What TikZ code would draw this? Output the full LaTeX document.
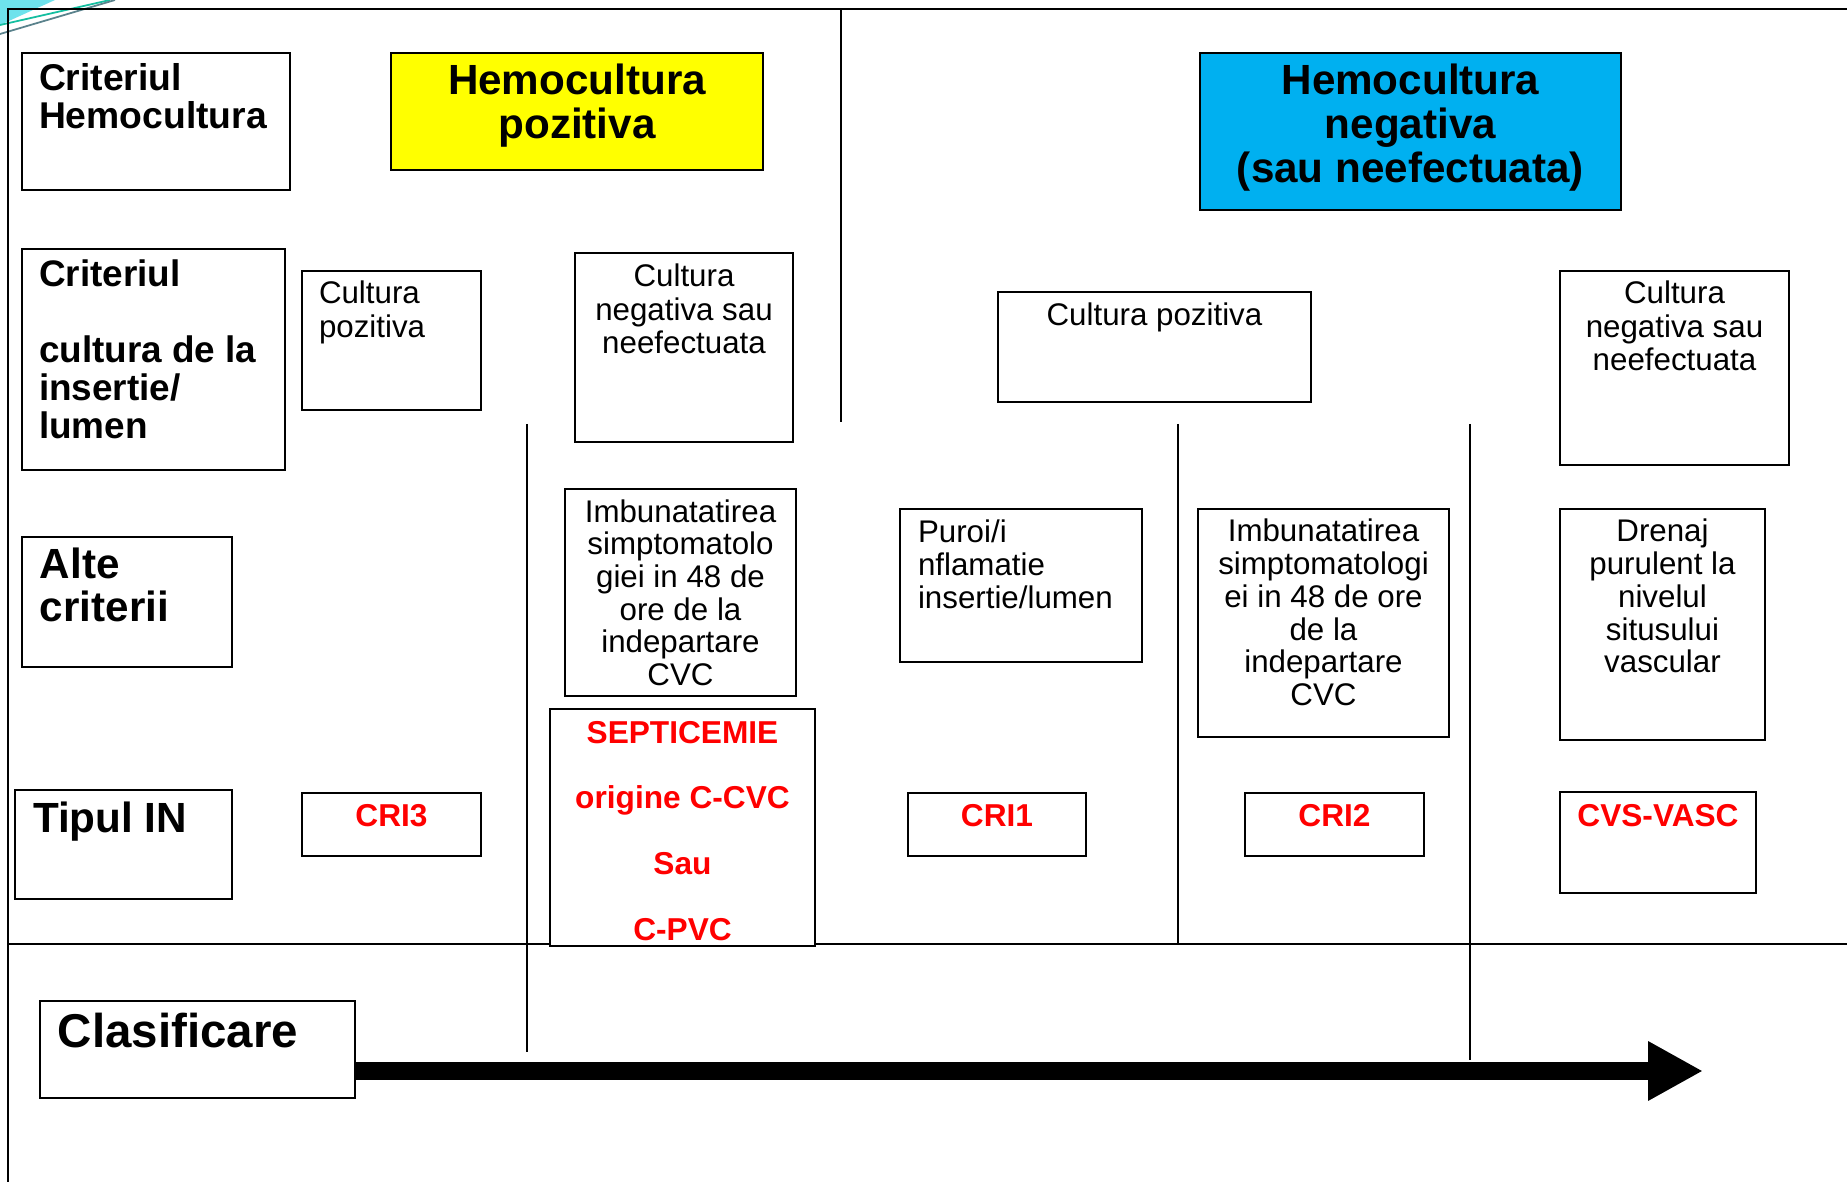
\documentclass[tikz,border=0pt]{standalone}
\usepackage{fontspec}
\setmainfont{Liberation Sans}
\usetikzlibrary{arrows.meta}
\newlength\upx \setlength\upx{0.01cm}
\definecolor{hyellow}{RGB}{255,255,0}
\definecolor{hcyan}{RGB}{0,176,240}
\definecolor{hred}{RGB}{255,0,0}
\definecolor{decocyan}{RGB}{110,226,236}
\definecolor{decogreen}{RGB}{20,190,160}
\definecolor{decogray}{RGB}{90,130,140}
\tikzset{
  framebox/.style={draw=black, line width=0.6pt, fill=white, inner sep=0pt, outer sep=0pt},
  rule/.style={draw=black, line width=0.6pt},
  bigarrow/.style={line width=5.1pt, -{Triangle[length=15.6pt, width=15.8pt]}},
}
% [style]{name}{x1}{y1}{x2}{y2}{first baseline}{format}{text}
\newcommand\pbox[9][]{%
  \node[framebox,anchor=north west,#1] (#2) at (#3,#4)
   {\begin{minipage}[t][\dimexpr#6\upx-#4\upx\relax][t]{\dimexpr#5\upx-#3\upx\relax}#8\rule{0pt}{#7\upx}#9\end{minipage}};}
\newcommand\fhead{\fontsize{10.6pt}{10.6pt}\selectfont\bfseries\raggedright\leftskip=17\upx}
\newcommand\fbig{\fontsize{12pt}{12.4pt}\selectfont\bfseries}
\newcommand\freg{\fontsize{8.9pt}{9.4pt}\selectfont}
\newcommand\fred{\fontsize{9pt}{10pt}\selectfont\bfseries\color{hred}\centering}
\begin{document}
\begin{tikzpicture}[x=0.01cm,y=-0.01cm]
\useasboundingbox (0,0) rectangle (1847,1182);
\fill[white] (0,0) rectangle (1847,1182);
% corner decoration
\fill[decocyan] (0,0) -- (55,0) -- (0,25) -- cycle;
\draw[decogreen, line width=0.5pt] (0,25) -- (110,0);
\draw[decogray, line width=0.5pt] (0,34) -- (115,0);
% frame and dividers
\draw[rule] (8,1182) -- (8,9) -- (1847,9);
\draw[rule] (841,9) -- (841,422);
\draw[rule] (527,424) -- (527,1052);
\draw[rule] (1178,424) -- (1178,944);
\draw[rule] (1470,424) -- (1470,1060);
\draw[rule] (8,944) -- (1847,944);
% row 1
\pbox{crit1}{22}{53}{290}{190}{38}{\fhead}{Criteriul\\Hemocultura}
\pbox[fill=hyellow]{hpos}{391}{53}{763}{170}{42}{\fbig\centering}{Hemocultura\\pozitiva}
\pbox[fill=hcyan]{hneg}{1200}{53}{1621}{210}{42}{\fbig\centering}{Hemocultura\\negativa\\(sau neefectuata)}
% row 2
\pbox{crit2}{22}{249}{285}{470}{38}{\fontsize{10.5pt}{10.8pt}\selectfont\bfseries\raggedright\leftskip=17\upx}{Criteriul\\\mbox{}\\cultura de la\\insertie/\\lumen}
\pbox{cpoz1}{302}{271}{481}{410}{33}{\fontsize{8.9pt}{9.6pt}\selectfont\raggedright\leftskip=17\upx}{Cultura\\pozitiva}
\pbox{cneg1}{575}{253}{793}{442}{34}{\freg\centering}{Cultura\\negativa sau\\neefectuata}
\pbox{cpoz2}{998}{292}{1311}{402}{34}{\freg\centering}{Cultura pozitiva}
\pbox{cneg2}{1560}{271}{1789}{465}{33}{\fontsize{8.9pt}{9.5pt}\selectfont\centering}{Cultura\\negativa sau\\neefectuata}
% row 3
\pbox{alte}{22}{537}{232}{667}{42}{\fontsize{12pt}{12.2pt}\selectfont\bfseries\raggedright\leftskip=18\upx}{Alte\\criterii}
\pbox{imb1}{565}{489}{796}{696}{33}{\fontsize{8.9pt}{9.3pt}\selectfont\centering}{Imbunatatirea\\simptomatolo\\giei in 48 de\\ore de la\\indepartare\\CVC}
\pbox{puroi}{900}{509}{1142}{662}{34}{\fontsize{8.9pt}{9.25pt}\selectfont\raggedright\leftskip=18\upx}{Puroi/i\\nflamatie\\insertie/lumen}
\pbox{imb2}{1198}{509}{1449}{737}{33}{\fontsize{8.9pt}{9.3pt}\selectfont\centering}{Imbunatatirea\\simptomatologi\\ei in 48 de ore\\de la\\indepartare\\CVC}
\pbox{dren}{1560}{509}{1765}{740}{33}{\fontsize{8.9pt}{9.3pt}\selectfont\centering}{Drenaj\\purulent la\\nivelul\\situsului\\vascular}
% row 4
\pbox{sept}{550}{709}{815}{946}{34}{\fontsize{9pt}{18.7pt}\selectfont\bfseries\color{hred}\centering}{SEPTICEMIE\\origine C-CVC\\Sau\\C-PVC}
\pbox{tip}{15}{790}{232}{899}{42}{\fontsize{12pt}{12.2pt}\selectfont\bfseries\raggedright\leftskip=18\upx}{Tipul IN}
\pbox{cri3}{302}{793}{481}{856}{34}{\fred}{CRI3}
\pbox{cri1}{908}{793}{1086}{856}{34}{\fred}{CRI1}
\pbox{cri2}{1245}{793}{1424}{856}{34}{\fred}{CRI2}
\pbox{cvs}{1560}{792}{1756}{893}{34}{\fred}{CVS-VASC}
% classification
\pbox{clas}{40}{1001}{355}{1098}{46}{\fontsize{13.5pt}{14pt}\selectfont\bfseries\raggedright\leftskip=18\upx}{Clasificare}
\coordinate (tip end) at (1703,1071);
\draw[bigarrow] (clas.east |- tip end) -- (tip end);
\end{tikzpicture}
\end{document}
